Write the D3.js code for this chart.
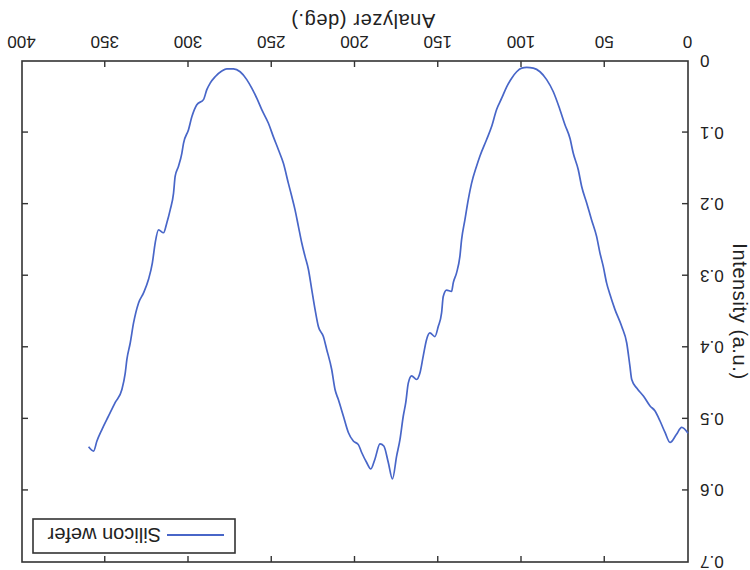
<!DOCTYPE html>
<html>
<head>
<meta charset="utf-8">
<script src="https://cdn.jsdelivr.net/npm/d3@7"></script>
<style>
  html, body { margin: 0; padding: 0; background: #fff; }
  svg { display: block; }
  text { font-family: "Liberation Sans", Arial, sans-serif; fill: #222; }
</style>
</head>
<body>
<svg id="chart" width="750" height="570"></svg>
<script>
const seriesName = "Silicon wefer";
const xTitle = "Analyzer (deg.)";
const yTitle = "Intensity (a.u.)";
const xTicks = [0, 50, 100, 150, 200, 250, 300, 350, 400];
const yTicks = [0, 0.1, 0.2, 0.3, 0.4, 0.5, 0.6, 0.7];

const angles = [0, 3.8, 7, 10.8, 13.8, 16.8, 19.8, 22.8, 26.8, 30.8, 33.8, 34.9, 36.8, 39.8, 43.9, 46.9, 48.9, 50.9, 52.9, 54.9,
  57.9, 60.9, 63.9, 65.9, 68.9, 70.9, 73.9, 76.9, 80.9, 84.9, 88.9, 92.9, 96.9, 99.9, 102.9, 105.9, 108.9, 111.9, 115, 118,
  121, 125, 127, 130, 132, 134, 136, 137, 139, 141, 142, 145, 147, 148, 150, 152, 155, 157, 159, 161,
  163, 166, 168, 169.5, 171, 173, 175, 177.5, 180, 182.7, 185, 188, 190.5, 193, 196, 198, 201, 204, 207, 210,
  212, 214, 217, 219, 222, 224, 226, 228, 230, 232, 234, 236, 238, 240, 243, 246, 249, 252, 256, 259,
  262, 265, 269, 273, 277, 280, 284, 287, 289, 291, 295, 298, 300, 303, 304, 306, 308, 309, 311, 313,
  315, 318, 320, 321.7, 324, 327, 330, 333, 335, 337, 338, 340, 344, 348, 352, 355, 357, 360];
const intensity = [0.52, 0.512, 0.522, 0.533, 0.519, 0.503, 0.489, 0.482, 0.468, 0.457, 0.445, 0.426, 0.394, 0.371, 0.347, 0.326, 0.310, 0.287, 0.268, 0.245,
  0.222, 0.198, 0.175, 0.152, 0.129, 0.108, 0.089, 0.068, 0.043, 0.026, 0.015, 0.010, 0.009, 0.010, 0.015, 0.024, 0.036, 0.052, 0.068, 0.092,
  0.110, 0.133, 0.147, 0.171, 0.194, 0.222, 0.250, 0.273, 0.296, 0.310, 0.322, 0.320, 0.329, 0.352, 0.371, 0.385, 0.380, 0.389, 0.412, 0.436,
  0.445, 0.440, 0.450, 0.477, 0.496, 0.529, 0.552, 0.584, 0.561, 0.538, 0.535, 0.556, 0.570, 0.561, 0.547, 0.536, 0.531, 0.519, 0.496, 0.473,
  0.459, 0.431, 0.403, 0.385, 0.371, 0.347, 0.319, 0.291, 0.273, 0.254, 0.231, 0.208, 0.189, 0.171, 0.143, 0.124, 0.106, 0.087, 0.068, 0.052,
  0.038, 0.026, 0.015, 0.011, 0.011, 0.014, 0.022, 0.031, 0.040, 0.054, 0.061, 0.078, 0.096, 0.115, 0.129, 0.147, 0.161, 0.185, 0.208, 0.226,
  0.240, 0.236, 0.254, 0.282, 0.305, 0.324, 0.338, 0.366, 0.394, 0.417, 0.436, 0.459, 0.477, 0.496, 0.515, 0.531, 0.545, 0.539];

const W = 750, H = 570;
const margin = {left: 62, right: 22, top: 8, bottom: 61};
const svg = d3.select("#chart");
svg.append("rect").attr("width", W).attr("height", H).attr("fill", "#fff");

// The reference picture is upside down: draw the chart normally, then turn it by 180 degrees.
const root = svg.append("g").attr("transform", `rotate(180, ${W/2}, ${H/2})`);

const x = d3.scaleLinear().domain([0, 400]).range([margin.left, W - margin.right]);
const y = d3.scaleLinear().domain([0, 0.7]).range([H - margin.bottom, margin.top]);

const axisColor = "#333";
const tickLen = 6;

// bottom axis
const gx = root.append("g").attr("transform", `translate(0,${y(0)})`)
  .call(d3.axisBottom(x).tickValues(xTicks).tickFormat(d3.format("d")).tickSizeInner(-tickLen).tickSizeOuter(0).tickPadding(13));
// top axis (mirror ticks, no labels)
const gxt = root.append("g").attr("transform", `translate(0,${y(0.7)})`)
  .call(d3.axisTop(x).tickValues(xTicks).tickFormat("").tickSizeInner(-tickLen).tickSizeOuter(0));
// left axis
const gy = root.append("g").attr("transform", `translate(${x(0)},0)`)
  .call(d3.axisLeft(y).tickValues(yTicks).tickFormat(d => d === 0 ? "0" : d3.format(".1f")(d)).tickSizeInner(-tickLen).tickSizeOuter(0).tickPadding(12));
// right axis
const gyr = root.append("g").attr("transform", `translate(${x(400)},0)`)
  .call(d3.axisRight(y).tickValues(yTicks).tickFormat("").tickSizeInner(-tickLen).tickSizeOuter(0));

[gx, gxt, gy, gyr].forEach(g => {
  g.select(".domain").remove();
  g.selectAll(".tick line").attr("stroke", axisColor).attr("stroke-width", 1.4);
  g.selectAll(".tick text").attr("font-size", 17).attr("fill", "#222")
    .attr("font-family", "'Liberation Sans', Arial, sans-serif");
});
// hide end ticks that coincide with frame
gx.selectAll(".tick line").filter(d => d === 0 || d === 400).remove();
gxt.selectAll(".tick line").filter(d => d === 0 || d === 400).remove();
gy.selectAll(".tick line").filter(d => d === 0 || d === 0.7).remove();
gyr.selectAll(".tick line").filter(d => d === 0 || d === 0.7).remove();

// frame
root.append("rect")
  .attr("x", x(0)).attr("y", y(0.7))
  .attr("width", x(400) - x(0)).attr("height", y(0) - y(0.7))
  .attr("fill", "none").attr("stroke", axisColor).attr("stroke-width", 1.6);

// data line
const pts = angles.map((a, i) => [a, intensity[i]]);
root.append("path")
  .datum(pts)
  .attr("fill", "none")
  .attr("stroke", "#4866c8")
  .attr("stroke-width", 1.7)
  .attr("stroke-linejoin", "round")
  .attr("d", d3.line().x(d => x(d[0])).y(d => y(d[1])).curve(d3.curveMonotoneX));

// axis titles
root.append("text")
  .attr("x", (x(0) + x(400)) / 2 - 8).attr("y", 556)
  .attr("text-anchor", "middle").attr("font-size", 20).attr("letter-spacing", 0.6)
  .text(xTitle);
root.append("text")
  .attr("transform", `translate(17,${(y(0) + y(0.7)) / 2}) rotate(-90)`)
  .attr("text-anchor", "middle").attr("font-size", 20).attr("letter-spacing", 0.6)
  .text(yTitle);

// legend
const lg = root.append("g");
lg.append("rect").attr("x", 515).attr("y", 17).attr("width", 202).attr("height", 34)
  .attr("fill", "#fff").attr("stroke", axisColor).attr("stroke-width", 1.6);
lg.append("line").attr("x1", 526).attr("x2", 583).attr("y1", 35).attr("y2", 35)
  .attr("stroke", "#4866c8").attr("stroke-width", 1.8);
lg.append("text").attr("x", 589).attr("y", 42).attr("font-size", 20).text(seriesName);
</script>
</body>
</html>
